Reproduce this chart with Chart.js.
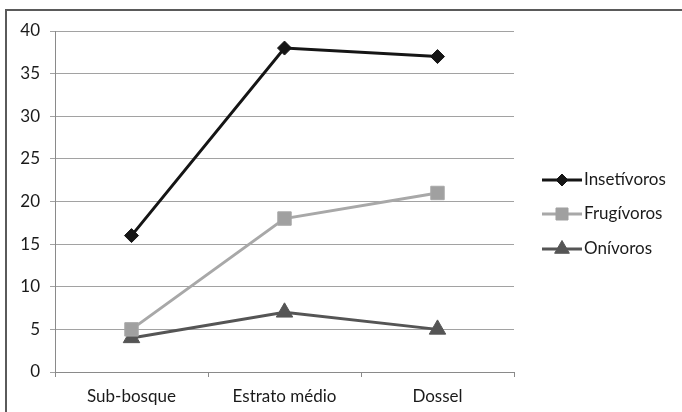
<!DOCTYPE html>
<html>
<head>
<meta charset="utf-8">
<script src="https://cdn.jsdelivr.net/npm/chart.js@4.4.1/dist/chart.umd.min.js"></script>
<style>
  html, body { margin: 0; padding: 0; background: #fff; }
  #wrap { position: relative; width: 682px; height: 412px; overflow: hidden; }
  #frame { position: absolute; left: 5px; top: 9px; width: 700px; height: 430px; border: 2px solid #5a5a5a; box-sizing: border-box; }
  canvas { position: absolute; left: 0; top: 0; }
</style>
</head>
<body>
<div id="wrap">
  <div id="frame"></div>
  <canvas id="chart" width="682" height="412"></canvas>
</div>
<script>
// categorias do eixo x
const categories = ["Sub-bosque", "Estrato médio", "Dossel"];

// séries
const insetivoros = [16, 38, 37];
const frugivoros = [5, 18, 21];
const onivoros = [4, 7, 5];

// eixo y
const yTicks = [0, 5, 10, 15, 20, 25, 30, 35, 40];

const FONT = "Lato, 'Open Sans', sans-serif";
const FONT_SIZE = 17;

// legenda: linha + marcador, como no Excel
function drawLegend(chart) {
    const ctx = chart.ctx;
    const x0 = 542, x1 = 582, rowY = [180, 214, 249];
    chart.data.datasets.forEach((ds, i) => {
        const y = rowY[i];
        ctx.save();
        ctx.strokeStyle = ds.borderColor;
        ctx.lineWidth = ds.borderWidth;
        ctx.beginPath();
        ctx.moveTo(x0, y);
        ctx.lineTo(x1, y);
        ctx.stroke();
        ctx.fillStyle = ds.backgroundColor;
        ctx.strokeStyle = ds.backgroundColor;
        ctx.lineWidth = 1;
        Chart.helpers.drawPoint(ctx, {
            pointStyle: ds.pointStyle,
            radius: ds.pointRadius - 1,
            rotation: 0,
            borderWidth: 1
        }, (x0 + x1) / 2, y);
        ctx.fillStyle = "#1a1a1a";
        ctx.font = FONT_SIZE + "px " + FONT;
        ctx.textBaseline = "middle";
        ctx.fillText(ds.label, x1 + 2, y);
        ctx.restore();
    });
}

new Chart(document.getElementById("chart"), {
    type: "line",
    data: {
        labels: categories,
        datasets: [
            {
                label: "Insetívoros",
                data: insetivoros,
                borderColor: "#151515",
                backgroundColor: "#151515",
                borderWidth: 3,
                pointStyle: "rectRot",
                pointRadius: 7,
                pointBorderWidth: 1
            },
            {
                label: "Frugívoros",
                data: frugivoros,
                borderColor: "#a8a8a8",
                backgroundColor: "#a0a0a0",
                borderWidth: 3,
                pointStyle: "rect",
                pointRadius: 9.5,
                pointBorderWidth: 1
            },
            {
                label: "Onívoros",
                data: onivoros,
                borderColor: "#555555",
                backgroundColor: "#555555",
                borderWidth: 3,
                pointStyle: "triangle",
                pointRadius: 9.5,
                pointBorderWidth: 1
            }
        ]
    },
    options: {
        responsive: false,
        animation: false,
        devicePixelRatio: 1,
        layout: { padding: { left: 6, top: 31, right: 168, bottom: 0 } },
        plugins: {
            legend: { display: false },
            tooltip: { enabled: false }
        },
        scales: {
            x: {
                offset: true,
                afterFit: s => { s.height = 40; },
                grid: {
                    offset: true,
                    drawOnChartArea: false,
                    tickLength: 5,
                    color: "#8a8a8a"
                },
                border: { color: "#8a8a8a", width: 1 },
                ticks: {
                    padding: 9,
                    color: "#1a1a1a",
                    font: { family: FONT, size: FONT_SIZE }
                }
            },
            y: {
                min: 0,
                max: 40,
                afterFit: s => { s.width = 49; },
                afterBuildTicks: s => { s.ticks = yTicks.map(v => ({ value: v })); },
                grid: {
                    tickLength: 5,
                    color: "#a2a2a2"
                },
                border: { color: "#8a8a8a", width: 1 },
                ticks: {
                    padding: 10,
                    color: "#1a1a1a",
                    font: { family: FONT, size: FONT_SIZE }
                }
            }
        }
    },
    plugins: [{
        id: "lineLegend",
        afterDraw: drawLegend
    }]
});
</script>
</body>
</html>
